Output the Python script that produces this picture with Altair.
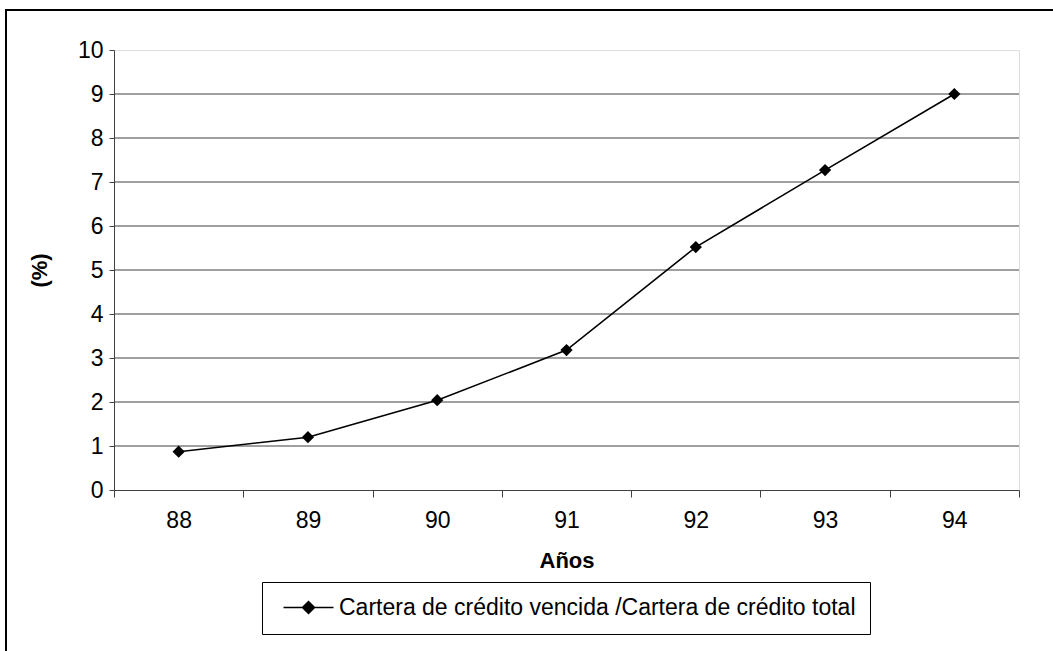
import altair as alt
import pandas as pd

years = ["88", "89", "90", "91", "92", "93", "94"]
values = [0.87, 1.2, 2.04, 3.18, 5.52, 7.27, 9.0]
series_name = "Cartera de crédito vencida /Cartera de crédito total"
grid_levels = [1, 2, 3, 4, 5, 6, 7, 8, 9]
y_ticks = list(range(0, 11))

df = pd.DataFrame({"year": years, "value": values, "serie": [series_name] * len(years)})
grid_df = pd.DataFrame({"value": grid_levels})
frame_df = pd.DataFrame({"a": [0]})

W, H = 905, 440
FONT = "Liberation Sans"
FS = 23
AXIS_GREY = "#404040"

x_enc = alt.X(
    "year:N",
    sort=years,
    bandPosition=0.5,
    scale=alt.Scale(type="band", paddingInner=0, paddingOuter=0),
    axis=alt.Axis(
        title="Años",
        labelAngle=0,
        tickBand="extent",
        tickSize=7,
        tickColor=AXIS_GREY,
        domainColor=AXIS_GREY,
        labelPadding=12,
        labelFontSize=FS,
        labelColor="black",
        titleFontSize=FS - 1,
        titleFontWeight="bold",
        titlePadding=18,
        titleColor="black",
        grid=False,
    ),
)
y_enc = alt.Y(
    "value:Q",
    scale=alt.Scale(domain=[0, 10], nice=False),
    axis=alt.Axis(
        title="(%)",
        values=y_ticks,
        tickSize=5,
        tickColor=AXIS_GREY,
        domainColor=AXIS_GREY,
        labelPadding=6,
        labelFontSize=FS,
        labelColor="black",
        titleFontSize=FS - 1,
        titleFontWeight="bold",
        titlePadding=26,
        titleColor="black",
        grid=False,
    ),
)

frame = alt.Chart(frame_df).mark_rect(fill=None, stroke="black", strokeWidth=2).encode(
    x=alt.value(-108), x2=alt.value(1200), y=alt.value(-40), y2=alt.value(900)
)

grid = alt.Chart(grid_df).mark_rule(color=AXIS_GREY, strokeWidth=1).encode(y=y_enc)

line = alt.Chart(df).mark_line(color="black", strokeWidth=1.6).encode(x=x_enc, y=y_enc)

points = alt.Chart(df).mark_point(shape="diamond", filled=True, size=150, opacity=1).encode(
    x=x_enc,
    y=y_enc,
    color=alt.Color(
        "serie:N",
        scale=alt.Scale(range=["black"]),
        legend=alt.Legend(
            title=None,
            orient="none",
            legendX=148,
            legendY=532,
            strokeColor="black",
            fillColor="white",
            padding=14,
            symbolType="M-5,0H5M0,-1.2L1.2,0L0,1.2L-1.2,0Z",
            symbolSize=100,
            symbolStrokeColor="black",
            symbolFillColor="black",
            symbolStrokeWidth=1.5,
            symbolOffset=21,
            labelOffset=19,
            labelFontSize=FS,
            labelColor="black",
            labelLimit=900,
        ),
    ),
)

chart = (
    alt.layer(frame, grid, line, points)
    .properties(
        width=W,
        height=H,
        autosize=alt.AutoSizeParams(type="none"),
        padding={"left": 114, "top": 50, "right": 1053 - 114 - W, "bottom": 651 - 50 - H},
        background="white",
    )
    .configure_view(strokeWidth=0, stroke="transparent")
    .configure(font=FONT)
)

chart.save("out.html", embed_options={"renderer": "svg", "actions": False})
